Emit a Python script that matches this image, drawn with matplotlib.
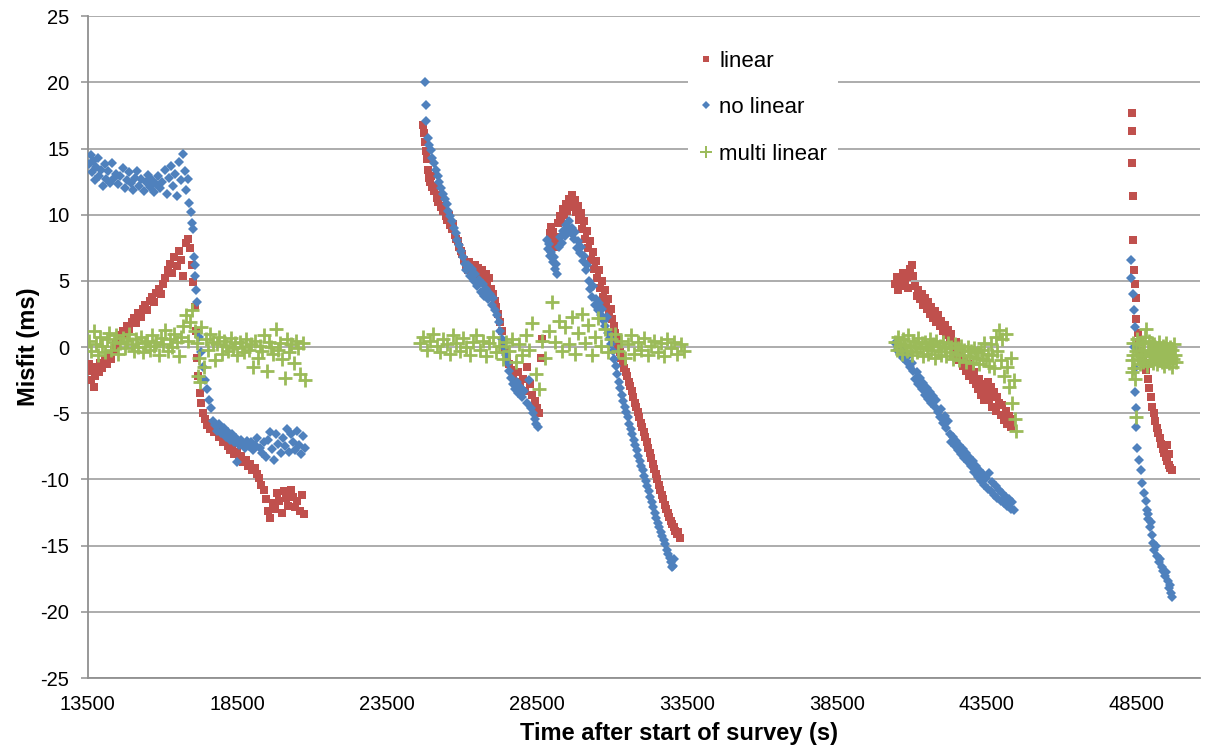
import matplotlib
matplotlib.use("Agg")
import matplotlib.pyplot as plt
from matplotlib.lines import Line2D

plt.rcParams['font.family'] = ['Liberation Sans', 'DejaVu Sans']

# colours of the three fits
c_lin = '#C0504D'
c_nolin = '#4F81BD'
c_multi = '#9BBB59'

# ---------------- data: (time [s], misfit [ms]) ----------------
# first survey block, ~13500 - 20800 s
red_s1 = [(13550,-1.3),(13600,-2.5),(13650,-1.8),(13700,-3.0),(13750,-2.2),(13800,-1.5),(13870,-1.9),(13930,-1.2),
          (14000,-1.6),(14080,-0.9),(14150,-1.3),(14230,-0.6),(14300,-0.9),(14380,-0.2),(14450,0.2),(14530,0.6),
          (14600,0.9),(14680,1.2),(14750,1.0),(14830,1.6),(14900,1.4),(14980,1.9),(15050,2.2),(15130,1.8),
          (15200,2.6),(15280,2.3),(15350,2.9),(15430,3.2),(15500,2.8),(15580,3.5),(15650,3.8),(15730,3.4),
          (15800,4.1),(15880,4.4),(15950,4.0),(16030,4.8),(16100,5.2),(16180,5.8),(16250,6.3),(16330,5.6),
          (16400,6.8),(16480,6.1),(16550,7.3),(16620,6.6),(16700,5.4),(16780,7.9),(16850,8.2),(16920,7.5),
          (16980,6.2),(17030,4.9),(17080,3.0),(17120,1.2),(17160,-0.8),(17200,-2.2),(17250,-3.5),(17300,-4.2),
          (17350,-5.0),(17420,-5.4),(17500,-5.9),(17580,-6.2),(17650,-5.7),(17720,-6.4),(17800,-6.0),(17880,-6.8),
          (17950,-6.5),(18030,-7.2),(18100,-6.9),(18180,-7.5),(18250,-7.8),(18330,-7.4),(18400,-8.1),(18480,-7.9),
          (18550,-8.4),(18630,-8.2),(18700,-8.7),(18780,-8.5),(18850,-9.0),(18930,-8.8),(19000,-9.3),(19080,-9.1),
          (19150,-9.6),(19230,-9.9),(19300,-10.4),(19380,-10.8),(19450,-11.5),(19530,-12.4),(19600,-12.9),
          (19680,-11.8),(19750,-12.2),(19830,-11.0),(19900,-11.6),(19980,-12.5),(20050,-10.9),(20130,-11.4),
          (20200,-12.0),(20280,-10.8),(20350,-11.3),(20430,-12.1),(20500,-11.6),(20580,-12.4),(20650,-11.2),
          (20720,-12.6)]

blue_s1 = [(13550,13.8),(13600,14.5),(13640,13.2),(13690,14.1),(13740,12.6),(13790,13.6),(13840,14.3),(13890,12.9),
           (13950,13.4),(14010,12.2),(14070,13.8),(14130,12.7),(14190,13.3),(14250,12.4),(14320,13.9),(14390,12.8),
           (14460,13.1),(14530,12.3),(14600,12.9),(14670,13.5),(14740,12.0),(14810,12.6),(14880,13.2),(14950,12.4),
           (15020,11.9),(15090,12.8),(15160,13.3),(15230,12.2),(15300,12.7),(15370,11.8),(15440,12.5),(15510,13.0),
           (15580,12.1),(15650,12.6),(15720,11.7),(15790,12.3),(15860,12.9),(15930,12.0),(16000,12.5),(16070,13.4),
           (16140,11.6),(16210,12.8),(16280,13.7),(16350,12.2),(16420,13.1),(16490,11.4),(16560,14.0),(16630,12.6),
           (16700,14.6),(16750,13.3),(16800,11.9),(16850,12.7),(16900,10.9),(16940,10.2),(16980,9.4),(17010,8.9),
           (17040,6.8),(17070,6.2),(17100,5.4),(17130,4.3),(17160,3.4),(17220,0.8),(17280,-0.4),(17350,-1.5),
           (17420,-2.5),(17490,-3.2),(17550,-4.0),(17620,-4.6),(17690,-5.6),(17760,-5.9),(17830,-6.3),(17900,-5.8),
           (17970,-6.5),(18040,-6.1),(18110,-6.8),(18180,-6.4),(18250,-7.0),(18320,-6.6),(18390,-7.2),(18460,-6.9),
           (18500,-8.7),(18540,-7.4),(18610,-7.0),(18680,-7.3),(18750,-7.6),(18820,-7.1),(18890,-7.5),(18960,-7.2),
           (19030,-7.8),(19100,-7.4),(19170,-6.9),(19240,-7.6),(19310,-8.0),(19380,-7.2),(19450,-8.3),(19520,-7.0),
           (19590,-6.4),(19660,-7.7),(19730,-8.5),(19800,-6.6),(19870,-7.3),(19940,-8.0),(20010,-6.9),(20080,-7.5),
           (20150,-6.2),(20220,-7.9),(20290,-6.6),(20360,-7.2),(20430,-7.8),(20500,-6.3),(20570,-7.4),(20640,-8.1),
           (20700,-6.7),(20750,-7.6)]

green_s1 = [(13550,0.5),(13625,-0.3),(13700,1.2),(13775,0.2),(13850,-0.6),(13925,0.8),(14000,0.1),(14075,-0.4),
            (14150,0.6),(14225,1.1),(14300,-0.2),(14375,0.4),(14450,0.9),(14525,-0.5),(14600,0.3),(14675,0.7),
            (14750,-0.1),(14825,0.5),(14900,1.0),(14975,0.2),(15050,-0.3),(15125,0.6),(15200,0.0),(15275,0.8),
            (15350,-0.4),(15425,0.3),(15500,0.5),(15575,-0.2),(15650,0.9),(15725,0.1),(15800,0.4),(15875,-0.6),
            (15950,0.7),(16025,0.2),(16100,1.3),(16175,-0.3),(16250,0.6),(16325,0.0),(16400,1.0),(16475,0.4),
            (16550,-0.7),(16625,0.8),(16700,1.6),(16775,2.4),(16850,0.5),(16925,1.9),(17000,2.8),(17075,1.2),
            (17150,0.3),(17200,-2.2),(17225,-0.8),(17260,-2.6),(17300,1.5),(17375,-1.5),(17450,0.6),(17525,-0.2),
            (17600,1.0),(17675,0.4),(17750,-1.0),(17825,0.2),(17900,0.8),(17975,-0.5),(18050,0.5),(18125,0.1),
            (18200,-0.3),(18275,0.7),(18350,-0.1),(18425,0.3),(18500,-0.6),(18575,0.4),(18650,0.0),(18725,-0.4),
            (18800,0.6),(18875,-0.2),(18950,0.2),(19025,-1.5),(19100,0.5),(19175,-0.8),(19250,0.1),(19325,-0.3),
            (19400,0.9),(19475,-1.8),(19550,0.4),(19625,0.0),(19700,-0.5),(19775,1.4),(19850,-0.2),(19925,0.3),
            (20000,-0.9),(20075,-2.3),(20150,0.6),(20225,-0.4),(20300,0.2),(20375,-1.2),(20450,0.5),(20525,-0.1),
            (20600,-2.0),(20675,0.3),(20750,-2.5)]

# second block, ~24600 - 33400 s
red_s2 = [(24690,16.8),(24720,16.2),(24760,15.5),(24790,14.8),(24823,14.2),(24850,13.4),(24880,12.8),(24920,12.5),
          (24960,12.9),(25000,12.1),(25050,11.8),(25100,12.2),(25150,11.3),(25200,11.0),(25250,11.5),(25300,10.6),
          (25350,10.3),(25400,10.7),(25450,9.9),(25500,9.6),(25550,10.0),(25600,9.2),(25650,8.9),(25700,9.3),
          (25750,8.5),(25800,8.2),(25850,8.0),(25900,7.6),(25950,7.3),(26000,7.0),(26060,6.6),(26120,6.2),
          (26180,5.8),(26240,6.4),(26300,6.0),(26360,5.5),(26420,6.2),(26480,5.7),(26540,6.0),(26600,5.3),
          (26660,5.8),(26720,5.0),(26780,5.5),(26840,4.8),(26900,5.2),(26960,4.4),(27020,4.0),(27080,3.5),
          (27140,3.0),(27200,2.5),(27260,1.9),(27320,1.2),(27380,0.5),(27440,-0.2),(27500,-0.8),(27560,-1.3),
          (27620,-1.7),(27700,-2.1),(27780,-2.6),(27860,-1.9),(27940,-3.0),(28020,-2.4),(28100,-3.3),(28180,-1.5),
          (28260,-2.8),(28340,-3.6),(28420,-4.1),(28500,-4.6),(28580,-5.0),(28620,-0.8),(28650,0.6),
          (28920,8.6),(28960,9.1),(29000,8.0),(29040,8.7),(29080,7.6),(29120,8.3),(29160,7.9),(29210,9.4),
          (29260,9.9),(29310,9.5),(29360,10.4),(29410,10.0),(29460,10.8),(29510,10.3),(29560,11.2),(29610,10.6),
          (29660,11.5),(29710,10.9),(29760,11.1),(29810,10.2),(29860,10.7),(29910,9.6),(29960,10.1),(30010,8.9),
          (30060,9.5),(30110,8.2),(30160,8.8),(30210,7.5),(30260,8.0),(30310,6.6),(30360,7.2),(30410,5.9),
          (30460,6.5),(30510,5.2),(30560,5.8),(30610,4.5),(30660,5.0),(30710,3.8),(30760,4.3),(30810,3.2),
          (30860,3.6),(30910,2.6),(30960,2.9),(31010,2.1),(31060,1.6),(31110,1.1),(31160,0.6),(31210,0.1),
          (31260,-0.4),(31310,-0.8),(31360,-1.2),(31410,-1.6),(31460,-1.9),(31510,-2.2),(31560,-2.6),(31610,-2.9),
          (31660,-3.3),(31710,-3.8),(31760,-4.2),(31810,-4.5),(31860,-4.9),(31910,-5.3),(31960,-5.7),(32010,-6.0),
          (32060,-6.4),(32110,-6.8),(32160,-7.2),(32210,-7.6),(32260,-8.0),(32310,-8.4),(32360,-8.8),(32410,-9.2),
          (32460,-9.6),(32510,-10.0),(32560,-10.4),(32610,-10.8),(32660,-11.2),(32710,-11.5),(32760,-11.9),
          (32810,-12.2),(32860,-12.5),(32910,-12.8),(32960,-13.1),(33010,-13.4),(33060,-13.6),(33110,-13.9),
          (33160,-14.1),(33210,-14.0),(33260,-14.4)]

blue_s2 = [(24757,20.0),(24790,18.3),(24810,17.1),(24850,15.8),(24900,15.3),(24950,14.9),(25000,14.3),(25060,13.9),
           (25120,13.4),(25180,12.9),(25240,12.5),(25300,12.0),(25360,11.6),(25420,11.2),(25480,10.8),(25540,10.3),
           (25600,9.9),(25660,9.5),(25720,9.0),(25780,8.6),(25840,8.1),(25900,7.7),(25960,7.3),(26020,6.8),
           (26080,6.3),(26140,5.8),(26200,6.2),(26260,5.4),(26320,5.9),(26380,5.0),(26440,5.5),(26500,4.6),
           (26560,5.1),(26620,4.2),(26680,4.8),(26740,3.9),(26800,4.4),(26860,3.6),(26920,4.0),(26980,3.2),
           (27040,3.7),(27100,2.8),(27160,2.4),(27220,1.9),(27280,1.2),(27340,0.6),(27400,0.0),(27460,-0.6),
           (27520,-1.2),(27580,-1.8),(27640,-2.3),(27700,-2.8),(27760,-3.2),(27820,-2.6),(27880,-3.5),(27940,-3.0),
           (28000,-3.8),(28080,-3.3),(28160,-4.2),(28240,-2.5),(28300,-4.6),(28360,-5.0),(28420,-5.4),(28480,-5.8),
           (28520,-6.0),
           (28820,8.1),(28860,7.4),(28900,7.8),(28940,6.9),(28980,7.2),(29020,6.4),(29060,6.8),(29100,5.9),
           (29140,6.3),(29180,5.5),(29230,7.6),(29280,8.3),(29330,7.9),(29380,8.8),(29430,8.4),(29480,9.2),
           (29530,8.7),(29580,9.5),(29630,8.6),(29680,9.0),(29730,8.2),(29780,8.7),(29830,7.5),(29880,8.0),
           (29930,7.1),(29980,7.6),(30030,6.5),(30080,6.9),(30130,5.8),(30180,6.2),(30230,5.0),(30280,4.4),
           (30330,3.8),(30380,4.6),(30430,3.2),(30480,3.6),(30530,2.8),(30580,3.3),(30630,2.4),(30680,2.9),
           (30730,2.0),(30780,1.6),(30830,2.3),(30880,1.1),(30930,0.7),(30980,0.2),(31030,-0.3),(31080,-0.9),
           (31130,-1.4),(31180,-2.0),(31230,-2.6),(31280,-3.1),(31330,-3.6),(31380,-4.1),(31430,-4.5),(31480,-4.9),
           (31530,-5.3),(31580,-5.8),(31630,-6.2),(31680,-6.6),(31730,-7.0),(31780,-7.4),(31830,-7.8),(31880,-8.2),
           (31930,-8.6),(31980,-9.0),(32030,-9.3),(32080,-9.7),(32130,-10.1),(32180,-10.5),(32230,-10.9),
           (32280,-11.3),(32330,-11.7),(32380,-12.1),(32430,-12.5),(32480,-12.9),(32530,-13.3),(32580,-13.6),
           (32630,-14.0),(32680,-14.3),(32730,-14.6),(32780,-14.9),(32830,-15.3),(32880,-15.6),(32930,-15.9),
           (32980,-16.2),(33000,-16.6),(33030,-16.5),(33060,-16.0)]

green_s2 = [(24600,0.3),(24710,0.8),(24820,-0.2),(24930,0.5),(25040,1.0),(25150,0.1),(25260,-0.4),(25370,0.6),
            (25480,0.2),(25590,-0.5),(25700,0.9),(25810,0.3),(25920,-0.3),(26030,0.7),(26140,0.0),(26250,-0.6),
            (26360,0.4),(26470,0.9),(26580,-0.2),(26690,0.5),(26800,-0.7),(26910,0.3),(27020,0.8),(27130,-0.4),
            (27240,0.1),(27350,-0.9),(27460,0.4),(27570,-0.3),(27680,0.6),(27790,-1.1),(27900,0.2),(28010,-0.6),
            (28120,0.9),(28230,-0.2),(28340,1.8),(28450,-2.0),(28560,-3.2),(28670,0.5),(28780,-0.8),(28890,1.2),
            (29000,3.4),(29110,0.4),(29220,2.0),(29330,-0.3),(29440,1.5),(29550,0.2),(29660,2.3),(29770,-0.5),
            (29880,1.1),(29990,2.5),(30100,0.3),(30210,1.7),(30320,-0.6),(30430,0.8),(30540,2.2),(30650,0.1),
            (30760,1.4),(30870,-0.4),(30980,0.6),(31090,1.0),(31200,-0.3),(31310,0.5),(31420,-0.8),(31530,0.2),
            (31640,0.9),(31750,-0.5),(31860,0.4),(31970,-0.2),(32080,0.7),(32190,-0.6),(32300,0.1),(32410,0.5),
            (32520,-0.4),(32630,0.3),(32740,-0.7),(32850,0.6),(32960,-0.1),(33070,0.4),(33180,-0.5),(33290,0.2),
            (33400,-0.3)]

# third block, ~40400 - 44500 s (red and blue share the same times)
t3 = [40450, 40505, 40560, 40615, 40670, 40725, 40780, 40835, 40890, 40945,
      41000, 41055, 41110, 41165, 41220, 41275, 41330, 41385, 41440, 41495,
      41550, 41605, 41660, 41715, 41770, 41825, 41880, 41935, 41990, 42045,
      42100, 42155, 42210, 42265, 42320, 42375, 42430, 42485, 42540, 42595,
      42650, 42705, 42760, 42815, 42870, 42925, 42980, 43035, 43090, 43145,
      43200, 43255, 43310, 43365, 43420, 43475, 43530, 43585, 43640, 43695,
      43750, 43805, 43860, 43915, 43970, 44025, 44080, 44135, 44190, 44245,
      44300, 44355]
red3 = [4.8, 5.3, 4.3, 5.0, 4.6, 5.6, 4.9, 5.3, 4.5, 5.9,
        6.2, 5.4, 4.6, 3.9, 4.3, 3.6, 4.0, 3.2, 3.7, 2.9,
        3.4, 2.5, 3.0, 2.2, 2.7, 1.9, 2.4, 1.6, 2.0, 1.2,
        1.7, 0.9, 1.3, 0.5, 1.0, 0.2, -0.2, 0.4, -0.6, -1.0,
        -0.4, -1.4, -0.9, -1.8, -1.3, -2.2, -1.6, -2.5, -1.9, -2.8,
        -3.2, -2.4, -3.6, -2.8, -4.0, -3.3, -2.6, -3.9, -3.0, -4.5,
        -3.4, -4.8, -3.8, -4.2, -5.1, -4.4, -5.5, -4.8, -5.8, -5.2,
        -6.0, -5.4]
blue3 = [0.3, -0.2, 0.1, -0.5, -0.3, -0.8, -0.6, -1.1, -0.7, -1.5,
         -1.2, -1.8, -2.4, -1.9, -2.8, -2.3, -3.2, -2.7, -3.6, -3.1,
         -3.9, -3.4, -4.2, -3.7, -4.5, -4.0, -4.9, -5.3, -4.7, -5.7,
         -5.2, -6.1, -5.6, -6.6, -7.2, -6.8, -7.5, -7.1, -7.8, -7.4,
         -8.1, -7.7, -8.4, -8.0, -8.7, -8.3, -9.0, -8.6, -9.4, -9.0,
         -9.8, -9.3, -10.1, -9.6, -10.4, -9.9, -10.7, -9.5, -10.9, -10.2,
         -11.2, -10.5, -11.4, -10.8, -11.6, -11.0, -11.8, -11.3, -12.0, -11.5,
         -12.2, -11.7]
green_s3 = [(40450,0.4),(40505,-0.2),(40560,0.8),(40615,0.1),(40670,-0.5),(40725,0.6),(40780,0.2),(40835,-0.3),
            (40890,0.9),(40945,0.0),(41000,-0.6),(41055,0.5),(41110,0.1),(41165,-0.4),(41220,0.7),(41275,-0.1),
            (41330,0.3),(41385,-0.7),(41440,0.4),(41495,0.0),(41550,-0.5),(41605,0.6),(41660,-0.2),(41715,0.2),
            (41770,-0.8),(41825,0.5),(41880,-0.3),(41935,0.1),(41990,-0.6),(42045,0.4),(42100,-0.1),(42155,-0.7),
            (42210,0.3),(42265,-0.4),(42320,0.0),(42375,-0.9),(42430,0.2),(42485,-0.5),(42540,-0.1),(42595,-1.0),
            (42650,0.1),(42705,-0.6),(42760,-0.2),(42815,-1.1),(42870,0.0),(42925,-0.7),(42980,-0.3),(43035,-1.2),
            (43090,-0.1),(43145,-0.8),(43200,-0.4),(43255,-1.3),(43310,-0.2),(43365,-0.9),(43420,0.3),(43475,-1.0),
            (43530,-0.5),(43585,-1.4),(43640,0.2),(43695,-0.6),(43750,-1.6),(43805,0.8),(43860,-0.3),(43915,1.3),
            (43970,-1.0),(44025,0.6),(44080,-2.2),(44135,1.0),(44190,-1.5),(44245,-3.0),(44300,-0.8),(44355,-4.2),
            (44410,-2.5),(44450,-5.4),(44490,-6.3)]
blue_s3_extra = [(44420, -12.3)]

# fourth block, ~48300 - 49850 s
red_s4 = [(48340,17.7),(48350,16.3),(48360,13.9),(48370,11.4),(48390,8.1),(48420,5.8),(48450,4.8),(48470,3.7),
          (48500,2.1),(48540,1.1),(48600,0.4),(48660,-0.3),(48720,-0.8),(48770,-1.2),(48820,-1.7),(48870,-2.4),
          (48920,-3.1),(48970,-3.8),(49020,-4.5),(49070,-5.0),(49120,-5.6),(49170,-6.1),(49220,-6.5),(49270,-6.9),
          (49320,-7.3),(49370,-7.7),(49420,-8.0),(49470,-8.3),(49520,-8.6),(49570,-8.9),(49620,-9.1),(49670,-9.3),
          (49600,-8.1),(49520,-7.4)]
blue_s4 = [(48320,6.6),(48330,5.2),(48380,4.0),(48410,2.8),(48440,1.5),(48430,0.0),(48450,-1.6),(48460,-3.4),
           (48470,-4.6),(48490,-6.0),(48520,-7.6),(48570,-8.5),(48650,-9.3),(48700,-10.3),(48760,-11.0),
           (48820,-11.6),(48850,-12.3),(48880,-13.0),(48900,-12.6),(48940,-13.6),(48980,-13.2),(49020,-14.2),
           (49060,-14.8),(49100,-15.3),(49150,-15.0),(49200,-15.8),(49250,-16.2),(49300,-16.0),(49350,-16.6),
           (49400,-16.9),(49450,-17.3),(49500,-17.0),(49540,-17.7),(49580,-18.2),(49620,-18.0),(49660,-18.6),
           (49700,-18.9)]
green_s4 = [(48340,-1.9),(48360,-1.0),(48380,0.3),(48400,-0.6),(48430,-1.6),(48450,-2.4),(48490,-5.3),(48500,-0.3),
            (48530,0.6),(48560,-0.9),(48590,0.2),(48620,-1.3),(48650,-0.5),(48680,0.4),(48710,-1.1),(48740,-0.2),
            (48770,0.8),(48800,-0.7),(48830,1.4),(48860,-1.4),(48890,-0.3),(48920,0.5),(48950,-1.0),(48980,-0.4),
            (49010,0.3),(49040,-1.2),(49070,-0.6),(49100,0.2),(49130,-0.9),(49160,-0.1),(49190,-1.3),(49220,-0.5),
            (49250,0.4),(49280,-0.8),(49310,-0.2),(49340,-1.1),(49370,0.1),(49400,-0.6),(49430,-1.4),(49460,-0.3),
            (49490,0.3),(49520,-0.9),(49550,-0.4),(49580,-1.2),(49610,0.0),(49640,-0.7),(49670,-1.5),(49700,-0.2),
            (49730,-0.9),(49760,0.2),(49790,-0.6),(49820,-1.1)]

yticks = [-25, -20, -15, -10, -5, 0, 5, 10, 15, 20, 25]
xticks = [13500, 18500, 23500, 28500, 33500, 38500, 43500, 48500]


def unzip(*blocks):
    xs, ys = [], []
    for b in blocks:
        for t, v in b:
            xs.append(t)
            ys.append(v)
    return xs, ys


red_x, red_y = unzip(red_s1, red_s2, list(zip(t3, red3)), red_s4)
blue_x, blue_y = unzip(blue_s1, blue_s2, list(zip(t3, blue3)), blue_s3_extra, blue_s4)
green_x, green_y = unzip(green_s1, green_s2, green_s3, green_s4)

fig = plt.figure(figsize=(12.07, 7.53), dpi=100)
ax = fig.add_axes([0.0725, 0.0996, 0.9217, 0.8788])

ax.plot(red_x, red_y, ls='none', marker='s', ms=6, mfc=c_lin, mec=c_lin, mew=0, zorder=3)
ax.plot(blue_x, blue_y, ls='none', marker='D', ms=4.8, mfc=c_nolin, mec=c_nolin, mew=0, zorder=4)
ax.plot(green_x, green_y, ls='none', marker='+', ms=10, mew=2.0, color=c_multi, zorder=5)

ax.set_xlim(13500, 50620)
ax.set_ylim(-25, 25)
ax.set_yticks(yticks)
ax.set_xticks(xticks)
ax.set_yticklabels([str(v) for v in yticks])
ax.set_xticklabels([str(v) for v in xticks])
ax.tick_params(axis='y', length=5, width=1.1, color='#909090', pad=8, labelsize=14.5)
ax.tick_params(axis='x', length=0, pad=12, labelsize=14.5)

ax.yaxis.grid(True, color='#a6a6a6', lw=1.3)
ax.set_axisbelow(True)
for s in ['top', 'right']:
    ax.spines[s].set_visible(False)
for s in ['left', 'bottom']:
    ax.spines[s].set_color('#909090')
    ax.spines[s].set_linewidth(1.3)

ax.set_xlabel('Time after start of survey (s)', fontsize=17, fontweight='bold')
ax.set_ylabel('Misfit (ms)', fontsize=17, fontweight='bold')
ax.xaxis.set_label_coords(0.532, -0.066)
ax.yaxis.set_label_coords(-0.043, 0.5)

handles = [Line2D([], [], ls='none', marker='s', ms=5, mfc=c_lin, mec=c_lin, mew=0),
           Line2D([], [], ls='none', marker='D', ms=3.8, mfc=c_nolin, mec=c_nolin, mew=0),
           Line2D([], [], ls='none', marker='+', ms=9, mew=1.4, color=c_multi)]
leg = ax.legend(handles, ['linear', 'no linear', 'multi linear'], loc='upper left',
                bbox_to_anchor=(0.54, 0.965), frameon=True, facecolor='white', edgecolor='none',
                framealpha=1, fontsize=16, labelspacing=1.15, handlelength=0.6,
                handletextpad=0.3, borderpad=0.5, borderaxespad=0)
leg.set_zorder(6)

fig.savefig('out.png', dpi=100, facecolor='white')
